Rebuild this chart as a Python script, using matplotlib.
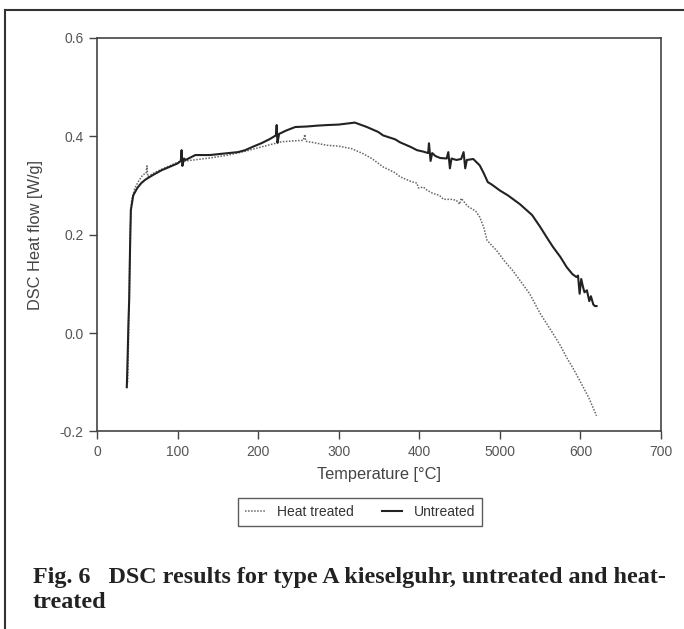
import matplotlib
matplotlib.use('Agg')
import matplotlib.pyplot as plt
from matplotlib.lines import Line2D

# untreated sample (solid line)
temp_untreated = [37, 38, 39, 40, 41, 42, 45, 50, 55, 60, 70, 80, 90, 100, 104, 105, 106, 108,
                  110, 122, 140, 163, 175, 184, 195, 204, 215, 222, 223, 224, 226, 235, 246,
                  260, 275, 286, 300, 310, 320, 335, 349, 355, 370, 376, 390, 397, 405, 411,
                  412, 414, 416, 420, 426, 434, 436, 438, 440, 446, 452, 455, 457, 459, 467,
                  475, 480, 485, 490, 500, 510, 525, 540, 550, 560, 566, 575, 583, 590, 595,
                  597, 599, 601, 603, 605, 608, 611, 613, 616, 618, 620]
flow_untreated = [-0.11, -0.05, 0.02, 0.07, 0.17, 0.25, 0.28, 0.295, 0.305, 0.312, 0.322, 0.331,
                  0.338, 0.345, 0.350, 0.372, 0.340, 0.355, 0.352, 0.362, 0.362, 0.366, 0.368,
                  0.372, 0.380, 0.386, 0.395, 0.402, 0.423, 0.387, 0.405, 0.412, 0.419, 0.420,
                  0.422, 0.423, 0.424, 0.426, 0.428, 0.419, 0.409, 0.402, 0.394, 0.388, 0.378,
                  0.372, 0.369, 0.366, 0.386, 0.350, 0.366, 0.360, 0.356, 0.355, 0.368, 0.335,
                  0.355, 0.352, 0.354, 0.368, 0.335, 0.352, 0.354, 0.341, 0.325, 0.307, 0.302,
                  0.290, 0.280, 0.262, 0.240, 0.216, 0.190, 0.175, 0.155, 0.134, 0.120, 0.114,
                  0.117, 0.080, 0.110, 0.095, 0.083, 0.087, 0.065, 0.075, 0.058, 0.055, 0.055]

# heat treated sample (dotted line)
temp_heat = [38, 39, 40, 41, 43, 47, 52, 57, 61, 62, 63, 70, 80, 90, 101, 120, 140, 163, 185,
             205, 229, 245, 256, 258, 259, 270, 285, 300, 316, 330, 341, 355, 370, 376, 390,
             397, 399, 405, 410, 417, 425, 430, 440, 446, 450, 452, 460, 470, 475, 480, 484,
             490, 496, 505, 516, 525, 537, 550, 566, 575, 583, 591, 599, 610, 620]
flow_heat = [-0.10, -0.03, 0.08, 0.20, 0.27, 0.295, 0.31, 0.322, 0.325, 0.340, 0.318, 0.325,
             0.333, 0.340, 0.348, 0.352, 0.356, 0.362, 0.370, 0.379, 0.389, 0.391, 0.392,
             0.404, 0.390, 0.387, 0.382, 0.380, 0.375, 0.365, 0.355, 0.338, 0.326, 0.318,
             0.308, 0.305, 0.295, 0.297, 0.290, 0.284, 0.280, 0.272, 0.272, 0.270, 0.262,
             0.274, 0.258, 0.248, 0.236, 0.215, 0.189, 0.178, 0.168, 0.148, 0.127, 0.107,
             0.080, 0.040, -0.001, -0.025, -0.050, -0.072, -0.096, -0.130, -0.168]

x_ticks = [0, 100, 200, 300, 400, 500, 600, 700]
x_tick_labels = ['0', '100', '200', '300', '400', '5000', '600', '700']
y_ticks = [-0.2, 0.0, 0.2, 0.4, 0.6]

plt.rcParams['font.family'] = ['Liberation Sans', 'DejaVu Sans']
grey = '#555555'

fig = plt.figure(figsize=(6.84, 6.29), dpi=100)
ax = fig.add_axes([0.1418, 0.314, 0.8246, 0.6256])

h_line, = ax.plot(temp_heat, flow_heat, color='#666666', lw=1.1, ls=(0, (1, 1)))
u_line, = ax.plot(temp_untreated, flow_untreated, color='#222222', lw=1.5)

ax.set_xlim(0, 700)
ax.set_ylim(-0.2, 0.6)
ax.set_xticks(x_ticks)
ax.set_xticklabels(x_tick_labels)
ax.set_yticks(y_ticks)
ax.set_yticklabels(['%.1f' % v for v in y_ticks])
ax.tick_params(direction='out', length=6, width=1, colors='#444444', labelcolor=grey,
               labelsize=10, top=False, right=False)
for s in ax.spines.values():
    s.set_color('#444444')
    s.set_linewidth(1.2)
ax.set_xlabel('Temperature [°C]', fontsize=11.8, color='#444444', labelpad=6)
ax.set_ylabel('DSC Heat flow [W/g]', fontsize=11.8, color='#444444', labelpad=12)

leg = fig.legend([h_line, u_line], ['Heat treated', 'Untreated'], loc='center',
                 bbox_to_anchor=(360 / 684, 1 - 512 / 629), ncol=2, fancybox=False,
                 edgecolor='#333333', fontsize=10, handlelength=1.5, columnspacing=2.0,
                 borderpad=0.5)
leg.get_frame().set_linewidth(1.0)
for t in leg.get_texts():
    t.set_color('#333333')

# outer frame of the figure panel (top and left only)
fig.add_artist(Line2D([5 / 684, 1], [1 - 10 / 629, 1 - 10 / 629], color='#333333', lw=1.5))
fig.add_artist(Line2D([5 / 684, 5 / 684], [0, 1 - 10 / 629], color='#333333', lw=1.5))

cap_font = ['Liberation Serif', 'DejaVu Serif']
fig.text(33 / 684, 1 - 577 / 629, 'Fig. 6   DSC results for type A kieselguhr, untreated and heat-',
         family=cap_font, fontweight='bold', fontsize=17.4, color='#222222', va='center')
fig.text(33 / 684, 1 - 602 / 629, 'treated', family=cap_font, fontweight='bold',
         fontsize=17.4, color='#222222', va='center')

fig.savefig('out.png', dpi=100)
